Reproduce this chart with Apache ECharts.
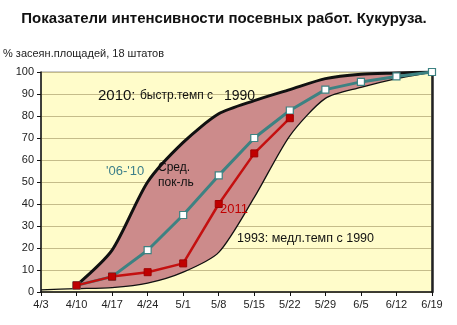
<!DOCTYPE html>
<html><head><meta charset="utf-8">
<script src="https://cdn.jsdelivr.net/npm/echarts@6/dist/echarts.min.js"></script>
<style>html,body{margin:0;padding:0;background:#fff}#c{width:457px;height:325px}</style>
</head><body><div id="c"></div>
<script>
const categories = ['4/3','4/10','4/17','4/24','5/1','5/8','5/15','5/22','5/29','6/5','6/12','6/19'];
const fast2010 = [null, 3, 19, 50, 68, 81, 87, 92, 97, 99, 99.5, 100];
const slow1993 = [1, 1.5, 2, 4, 9, 18, 43, 71, 88, 93, 97, 100];
const avg0610 = [null, 3, 7, 19, 35, 53, 70, 82.5, 92, 95.5, 98, 100];
const y2011 = [null, 3, 7, 9, 13, 40, 63, 79, null, null, null, null];
const yTicks = [0,10,20,30,40,50,60,70,80,90,100];

const band = fast2010.map((v,i)=> v==null ? null : v - slow1993[i]);
const F = 'Arial, "Liberation Sans", sans-serif';
const SM = 0.25;
const chart = echarts.init(document.getElementById('c'), null, {renderer:'canvas'});
chart.setOption({
  animation:false,
  backgroundColor:'#ffffff',
  title:{text:'Показатели интенсивности посевных работ. Кукуруза.', left:219, top:6, textAlign:'center',
    textStyle:{fontFamily:F, fontSize:15, fontWeight:'bold', color:'#111'}},
  grid:{left:35, top:72, right:25, bottom:33, show:true, backgroundColor:'#fffcca', borderColor:'#999', borderWidth:1},
  xAxis:{type:'category', data:categories, boundaryGap:false,
    axisLine:{lineStyle:{color:'#111', width:1.5}}, axisTick:{show:true, length:4, lineStyle:{color:'#111'}},
    axisLabel:{fontFamily:F, fontSize:11, color:'#222', margin:7}, splitLine:{show:false}},
  yAxis:[{type:'value', min:0, max:100, interval:10,
    name:'% засеян.площадей, 18 штатов', nameLocation:'end', nameGap:13,
    nameTextStyle:{fontFamily:F, fontSize:11, color:'#222', align:'left', padding:[0,0,0,-38]},
    axisLine:{show:true, lineStyle:{color:'#111', width:1.5}}, axisTick:{show:true, length:4, lineStyle:{color:'#111'}},
    axisLabel:{fontFamily:F, fontSize:11, color:'#222', margin:7, formatter:v=>yTicks.includes(v)?String(v):''},
    splitLine:{show:true, lineStyle:{color:'#c5bc8a', width:1.2}}},
    {type:'value', min:0, max:100, interval:10, position:'right',
    axisLine:{show:true, lineStyle:{color:'#222', width:2.5}}, axisTick:{show:false}, axisLabel:{show:false}, splitLine:{show:false}}],
  series:[
    {name:'1993', type:'line', data:slow1993, stack:'b', smooth:SM, symbol:'none', lineStyle:{color:'#111', width:1.3},
     areaStyle:{opacity:0}, z:3},
    {name:'band', type:'line', data:band, stack:'b', smooth:SM, symbol:'none', lineStyle:{width:0},
     areaStyle:{color:'#cc8b8b', opacity:1}, z:2},
    {name:'2010', type:'line', data:fast2010, smooth:SM, symbol:'none', lineStyle:{color:'#111', width:3}, z:4},
    {name:'06-10', type:'line', data:avg0610, symbol:'rect', symbolSize:7,
     itemStyle:{color:'#ffffff', borderColor:'#3d8282', borderWidth:1.2},
     lineStyle:{color:'#3d8282', width:3}, z:5},
    {name:'2011', type:'line', data:y2011, symbol:'rect', symbolSize:7,
     itemStyle:{color:'#c00000', borderColor:'#a00000', borderWidth:1},
     lineStyle:{color:'#c41010', width:2.5}, z:6}
  ],
  graphic:[
    {type:'text', left:98, top:88, style:{text:'2010:', font:'15px '+F, fill:'#111'}, z:10},
    {type:'text', left:140, top:90, style:{text:'быстр.темп с', font:'12px '+F, fill:'#111'}, z:10},
    {type:'text', left:224, top:89, style:{text:'1990', font:'14px '+F, fill:'#111'}, z:10},
    {type:'text', left:106, top:165, style:{text:"'06-'10", font:'13px '+F, fill:'#3d7f8a'}, z:10},
    {type:'text', left:158, top:162, style:{text:'Сред.', font:'12px '+F, fill:'#111'}, z:10},
    {type:'text', left:158, top:177, style:{text:'пок-ль', font:'12px '+F, fill:'#111'}, z:10},
    {type:'text', left:220, top:203, style:{text:'2011', font:'13px '+F, fill:'#c00000'}, z:10},
    {type:'text', left:237, top:232, style:{text:'1993: медл.темп с 1990', font:'12.5px '+F, fill:'#111'}, z:10}
  ]
});
</script></body></html>
